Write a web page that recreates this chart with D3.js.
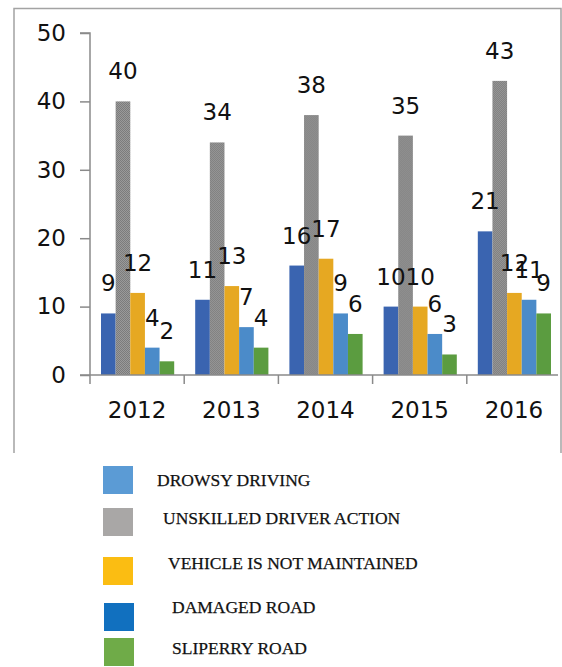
<!DOCTYPE html>
<html>
<head>
<meta charset="utf-8">
<script src="https://cdn.jsdelivr.net/npm/d3@7"></script>
<style>
  body { margin: 0; background: #fff; }
  #chart svg { display: block; }
</style>
</head>
<body>
<div id="chart"></div>
<script>
// data
const years = ['2012', '2013', '2014', '2015', '2016'];
const damagedRoad = [9, 11, 16, 10, 21];
const unskilledDriver = [40, 34, 38, 35, 43];
const vehicleNotMaintained = [12, 13, 17, 10, 12];
const drowsyDriving = [4, 7, 9, 6, 11];
const slipperyRoad = [2, 4, 6, 3, 9];
const yTicks = [0, 10, 20, 30, 40, 50];
const legendLabels = ['DROWSY DRIVING', 'UNSKILLED DRIVER ACTION', 'VEHICLE IS NOT MAINTAINED', 'DAMAGED ROAD', 'SLIPERRY ROAD'];

// order of bars inside a year group
const series = [
  { key: 'damaged', values: damagedRoad, fill: '#3a64b0' },
  { key: 'unskilled', values: unskilledDriver, fill: 'url(#grayTex)' },
  { key: 'vehicle', values: vehicleNotMaintained, fill: '#e6a822' },
  { key: 'drowsy', values: drowsyDriving, fill: '#4b8bc9' },
  { key: 'slippery', values: slipperyRoad, fill: '#5b9c40' },
];

// legend look (the legend is a pasted block, not evenly spaced)
const legendColors = ['#5b9bd5', '#a9a7a6', '#fbbd12', '#1170bf', '#6fab48'];
const legendBoxTop = [466, 508, 557, 603, 638];
const legendBoxX = [103, 103, 103, 104, 104];
const legendTextX = [157, 163, 168, 172, 172];
const legendTextY = [480, 518, 563, 607, 648];

const width = 562;
const height = 667;
const plot = { left: 90, right: 561, top: 33, bottom: 375 };

const svg = d3.select('#chart').append('svg')
  .attr('width', width)
  .attr('height', height);

// texture for the gray bars
const pat = svg.append('defs').append('pattern')
  .attr('id', 'grayTex')
  .attr('width', 2).attr('height', 2)
  .attr('patternUnits', 'userSpaceOnUse');
pat.append('rect').attr('width', 2).attr('height', 2).attr('fill', '#9a9a9a');
pat.append('rect').attr('width', 1).attr('height', 1).attr('fill', '#7c7c7c');
pat.append('rect').attr('x', 1).attr('y', 1).attr('width', 1).attr('height', 1).attr('fill', '#7c7c7c');

// frame around the chart
svg.append('path')
  .attr('d', 'M14,453 L14,8.5 L561,8.5 L561,453')
  .attr('fill', 'none')
  .attr('stroke', '#a3a3a3')
  .attr('stroke-width', 1.5);

const x0 = d3.scaleBand()
  .domain(years)
  .range([plot.left, plot.right]);

const x1 = d3.scaleBand()
  .domain(series.map(s => s.key))
  .range([11, x0.bandwidth() - 10]);

const y = d3.scaleLinear()
  .domain([0, 50])
  .range([plot.bottom, plot.top]);

const font = '"DejaVu Sans", sans-serif';

// bars
const groups = svg.selectAll('.year')
  .data(years)
  .enter().append('g')
  .attr('class', 'year')
  .attr('transform', d => `translate(${x0(d)},0)`);

groups.selectAll('rect')
  .data((d, i) => series.map(s => ({ key: s.key, fill: s.fill, v: s.values[i] })))
  .enter().append('rect')
  .attr('x', d => x1(d.key))
  .attr('width', x1.bandwidth())
  .attr('y', d => y(d.v))
  .attr('height', d => y(0) - y(d.v))
  .attr('fill', d => d.fill);

// value labels
groups.selectAll('.data-labels')
  .data((d, i) => series.map(s => ({ key: s.key, v: s.values[i] })))
  .enter().append('text')
  .attr('class', 'data-labels')
  .attr('x', d => x1(d.key) + x1.bandwidth() / 2)
  .attr('y', d => y(d.v) - 22)
  .attr('text-anchor', 'middle')
  .style('font-family', font)
  .style('font-size', '23px')
  .attr('fill', '#111')
  .text(d => d.v);

// y axis
const yAxis = svg.append('g')
  .attr('transform', `translate(${plot.left},0)`)
  .call(d3.axisLeft(y).tickValues(yTicks).tickSize(10).tickPadding(14));
yAxis.select('.domain').attr('stroke', '#8a8a8a').attr('stroke-width', 1.5)
  .attr('d', `M-10,${plot.top}H0V${plot.bottom}`);
yAxis.selectAll('.tick line').attr('stroke', '#8a8a8a').attr('stroke-width', 1.5);
yAxis.selectAll('text')
  .style('font-family', font)
  .style('font-size', '23px')
  .attr('fill', '#111');

// x axis with ticks on the group boundaries
const xAxis = svg.append('g')
  .attr('transform', `translate(0,${plot.bottom})`);
xAxis.append('line')
  .attr('x1', plot.left - 10).attr('x2', plot.right - 3)
  .attr('stroke', '#8a8a8a').attr('stroke-width', 1.5);
xAxis.selectAll('.xtick')
  .data(years)
  .enter().append('line')
  .attr('class', 'xtick')
  .attr('x1', d => x0(d)).attr('x2', d => x0(d))
  .attr('y1', 0).attr('y2', 9)
  .attr('stroke', '#8a8a8a').attr('stroke-width', 1.5);
xAxis.selectAll('.xlabel')
  .data(years)
  .enter().append('text')
  .attr('class', 'xlabel')
  .attr('x', d => x0(d) + x0.bandwidth() / 2)
  .attr('y', 43)
  .attr('text-anchor', 'middle')
  .style('font-family', font)
  .style('font-size', '23px')
  .attr('fill', '#111')
  .text(d => d);

// legend
const leg = svg.selectAll('.legend')
  .data(legendLabels)
  .enter().append('g')
  .attr('class', 'legend');

leg.append('rect')
  .attr('x', (d, i) => legendBoxX[i])
  .attr('y', (d, i) => legendBoxTop[i])
  .attr('width', 30)
  .attr('height', 28)
  .attr('fill', (d, i) => legendColors[i]);

leg.append('text')
  .attr('x', (d, i) => legendTextX[i])
  .attr('y', (d, i) => legendTextY[i])
  .attr('dy', '0.35em')
  .style('font-family', '"Liberation Serif", "Times New Roman", serif')
  .style('font-size', '17.5px')
  .attr('fill', '#111')
  .attr('stroke', '#111')
  .attr('stroke-width', 0.25)
  .text(d => d);
</script>
</body>
</html>
